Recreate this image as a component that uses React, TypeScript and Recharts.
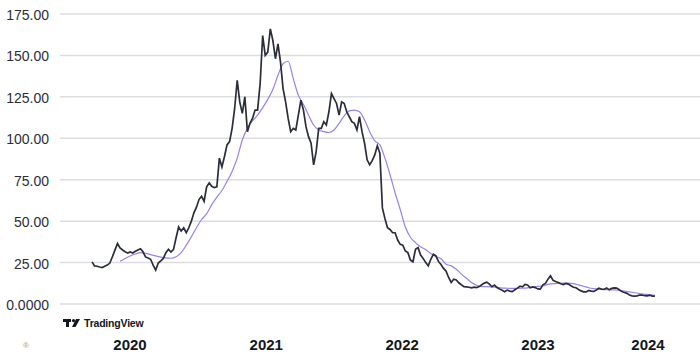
import React from 'react';
import { LineChart, Line, XAxis, YAxis, CartesianGrid } from 'recharts';

// first and last trading date shown in the chart
const START = Date.UTC(2019, 8, 21);
const END = Date.UTC(2023, 10, 11);
const MA_FIRST_INDEX = 11;
const MA_STEP = 2;

const PRICE: number[] = [
  25.4, 23, 22.8, 22.3, 22, 22.8, 23.5, 24.7, 28.5, 32.5,
  36.5, 33.8, 32.6, 31.5, 30.8, 31.4, 30.8, 31.8, 32.6, 33.3,
  31.5, 28.4, 27.8, 27, 23.5, 20.5, 24.7, 26, 27.5, 31,
  33, 31.4, 33, 40, 46.5, 44, 46, 43, 46, 50,
  55, 58.4, 63, 65, 62, 70.7, 73, 71, 70.2, 70.7,
  88, 82.7, 89, 96, 98, 106, 118, 135, 122, 115,
  125, 104, 109, 112, 117, 117, 133, 162, 150, 152,
  166, 159, 148, 157, 146, 130, 122, 112, 104, 106,
  105, 114, 123, 117, 107, 101, 97, 84, 92, 106,
  106, 110, 108, 116, 127, 124, 121, 114, 122, 121,
  116, 113, 110, 109, 105, 113, 104, 97, 87, 84,
  86.5, 90, 95.5, 91, 58, 51.5, 46, 45, 43, 43,
  38.6, 36, 35.5, 32, 31, 26.5, 25.5, 33, 34, 29.5,
  27.5, 25, 23, 27, 30, 29, 25.7, 23.8, 21.5, 19.8,
  16, 13, 15, 14.5, 12.8, 11.6, 10.5, 10.3, 10.1, 9.7,
  10.2, 9.9, 10.5, 11.6, 12.6, 13.2, 12, 10.4, 11.4, 9.9,
  9, 8.3, 7.4, 8.4, 7.8, 7.5, 8.6, 9.6, 10.7, 10.3,
  11.8, 11.5, 9.8, 10.3, 9.9, 9.1, 9, 11.6, 12.4, 15,
  17, 14.3, 13.6, 13, 12.2, 11.7, 12.4, 12, 11, 10.1,
  9.8, 8.8, 7.9, 7.3, 7.3, 8.2, 7.8, 7.6, 8.5, 9.5,
  9, 8.8, 9.7, 8.6, 9.4, 9.7, 9.6, 8.6, 7.5, 6.9,
  6.4, 5.4, 4.9, 4.8, 4.9, 5.4, 5.4, 5.0, 4.9, 5.3,
  4.8, 4.7,
];

const MA: number[] = [
  25.8, 27.5, 29, 30.2, 31, 30.6, 29.8, 29, 28.3, 27.8,
  27.6, 28.5, 31, 35.5, 40.5, 46, 51, 54.5, 60, 64.5,
  68.5, 74, 80, 88, 99, 106, 110.5, 114, 118.5, 123.5,
  129.5, 138, 145, 146.5, 136, 126, 120.5, 114, 108, 105,
  104, 103.5, 105, 109, 113.5, 116.5, 117, 116, 111, 104,
  98.5, 96, 88, 78, 67, 57, 46.5, 40.3, 37, 34.5,
  32.8, 30.5, 28.7, 27.3, 24, 23, 21, 18, 15.5, 13,
  11.3, 10.5, 10.5, 10.3, 10, 9.6, 9.5, 9.4, 9.4, 9.5,
  9.7, 10.2, 10.6, 11, 11.8, 12.3, 12.5, 12.6, 12.6, 12.3,
  11.5, 10.7, 9.8, 9.3, 9, 8.8, 8.6, 8.5, 8.3, 7.8,
  7.3, 6.8, 6.3, 5.9, 5.5, 5.2,
];

const YEAR_TICKS: number[] = [
  Date.UTC(2020, 0, 1),
  Date.UTC(2021, 0, 1),
  Date.UTC(2022, 0, 1),
  Date.UTC(2023, 0, 1),
  Date.UTC(2024, 0, 1),
];
const Y_TICKS: number[] = [0, 25, 50, 75, 100, 125, 150, 175];
const X_DOMAIN: [number, number] = [Date.UTC(2019, 5, 27), Date.UTC(2024, 2, 11)];

const STEP = (END - START) / (PRICE.length - 1);
const priceData = PRICE.map((v, i) => ({ t: START + i * STEP, v }));
const maData = MA.map((v, k) => ({ t: START + (MA_FIRST_INDEX + k * MA_STEP) * STEP, v }));

const FONT = '"Liberation Sans", Arial, sans-serif';

const XTick = (props: any) => {
  const { x, payload } = props;
  return (
    <text x={x} y={350} textAnchor="middle" fontSize={15} fontWeight={700} fill="#131722" fontFamily={FONT}>
      {new Date(payload.value).getUTCFullYear()}
    </text>
  );
};

const YTick = (props: any) => {
  const { y, payload } = props;
  const v = payload.value as number;
  const label = v === 0 ? '0.0000' : v.toFixed(2);
  return (
    <text x={49} y={y + 6} textAnchor="end" fontSize={14} fill="#2a2e39" fontFamily={FONT}>
      {label}
    </text>
  );
};

export default function App() {
  return (
    <div style={{ position: 'absolute', left: 0, top: 0, width: 700, height: 357, background: '#fff', overflow: 'visible' }}>
      <LineChart width={700} height={357} margin={{ top: 14, right: 0, bottom: 0, left: 0 }} style={{ overflow: 'visible' }}>
        <CartesianGrid vertical={false} stroke="#dcdde0" strokeWidth={1.5} />
        <XAxis
          dataKey="t"
          type="number"
          domain={X_DOMAIN}
          ticks={YEAR_TICKS}
          allowDataOverflow
          axisLine={false}
          tickLine={false}
          height={53}
          tick={<XTick />}
        />
        <YAxis
          type="number"
          domain={[0, 175]}
          ticks={Y_TICKS}
          axisLine={false}
          tickLine={false}
          width={60}
          tick={<YTick />}
        />
        <Line
          data={maData}
          dataKey="v"
          type="monotone"
          stroke="#9b80f5"
          strokeWidth={1.2}
          dot={false}
          isAnimationActive={false}
        />
        <Line
          data={priceData}
          dataKey="v"
          type="linear"
          stroke="#2a2e39"
          strokeWidth={1.7}
          dot={false}
          isAnimationActive={false}
        />
      </LineChart>
      <div
        style={{
          position: 'absolute',
          left: 63,
          top: 317,
          display: 'flex',
          alignItems: 'center',
          gap: 2,
        }}
      >
        <svg width={19} height={10} viewBox="0 0 19 10">
          <rect x={0} y={1} width={8} height={3} fill="#131722" />
          <rect x={3} y={1} width={3} height={8} fill="#131722" />
          <circle cx={10.5} cy={2.6} r={1.6} fill="#131722" />
          <polygon points="13,1 17,1 12.5,9 9,9" fill="#131722" />
        </svg>
        <span style={{ fontSize: 10.5, fontWeight: 700, fontFamily: FONT, color: '#131722', letterSpacing: -0.2 }}>
          TradingView
        </span>
      </div>
      <div
        style={{
          position: 'absolute',
          left: 23,
          top: 341,
          fontSize: 8,
          color: '#9a9a9a',
          fontFamily: FONT,
        }}
      >
        ®
      </div>
    </div>
  );
}
